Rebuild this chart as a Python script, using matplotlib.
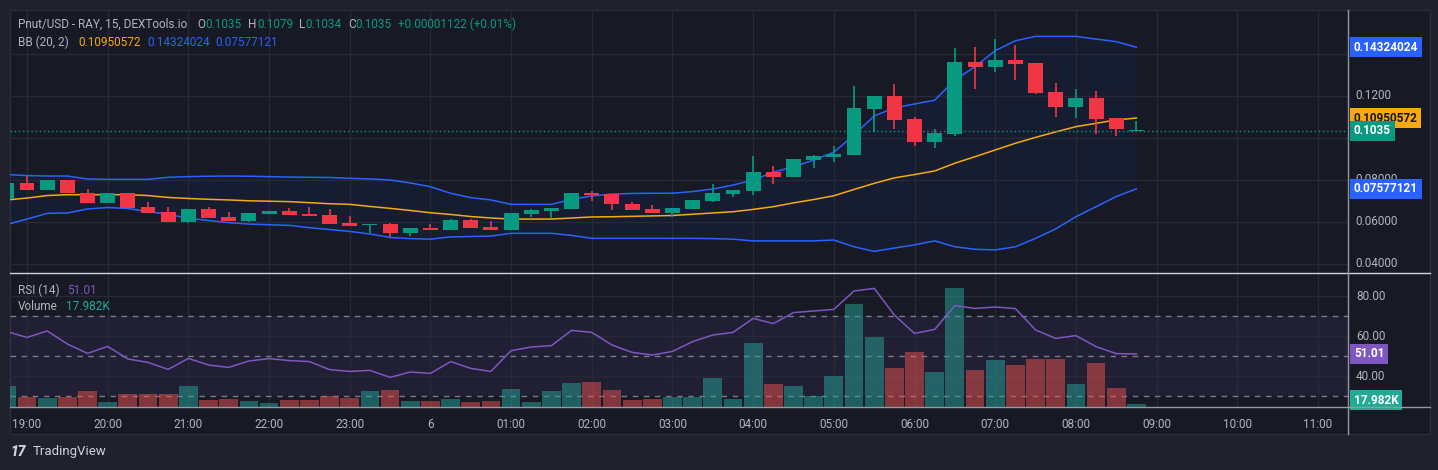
import numpy as np
import matplotlib
matplotlib.use("Agg")
import matplotlib.pyplot as plt
from matplotlib import transforms
from matplotlib.patches import Rectangle
from matplotlib.lines import Line2D

plt.rcParams['font.family'] = ['Roboto', 'DejaVu Sans']

# 15 min candles, index 0 = 19:00 (index -1 = 18:45, last = 08:45)
idx = np.arange(-1, 56)

opens = [0.0710, 0.0784, 0.0752, 0.0800, 0.0740, 0.0692, 0.0738, 0.0671, 0.0648, 0.0601,
         0.0662, 0.0624, 0.0606, 0.0640, 0.0652, 0.0638, 0.0633, 0.0595, 0.0587, 0.0590,
         0.0549, 0.0571, 0.0563, 0.0610, 0.0576, 0.0563, 0.0640, 0.0654, 0.0663, 0.0738,
         0.0733, 0.0687, 0.0662, 0.0644, 0.0663, 0.0701, 0.0735, 0.0749, 0.0838, 0.0816,
         0.0897, 0.0911, 0.0919, 0.1138, 0.1200, 0.1090, 0.0982, 0.1019, 0.1362, 0.1340,
         0.1371, 0.1357, 0.1219, 0.1149, 0.1190, 0.1095, 0.1035]
highs = [0.0790, 0.0819, 0.0802, 0.0802, 0.0757, 0.0740, 0.0740, 0.0695, 0.0671, 0.0664,
         0.0671, 0.0648, 0.0645, 0.0654, 0.0667, 0.0671, 0.0662, 0.0629, 0.0592, 0.0595,
         0.0573, 0.0590, 0.0612, 0.0614, 0.0605, 0.0645, 0.0662, 0.0669, 0.0740, 0.0748,
         0.0735, 0.0697, 0.0681, 0.0669, 0.0707, 0.0781, 0.0754, 0.0914, 0.0867, 0.0902,
         0.0919, 0.0962, 0.1248, 0.1202, 0.1257, 0.1099, 0.1041, 0.1429, 0.1433, 0.1471,
         0.1443, 0.1359, 0.1262, 0.1233, 0.1224, 0.1097, 0.1079]
lows = [0.0705, 0.0750, 0.0750, 0.0738, 0.0690, 0.0690, 0.0666, 0.0642, 0.0599, 0.0597,
        0.0618, 0.0604, 0.0600, 0.0638, 0.0633, 0.0627, 0.0590, 0.0580, 0.0549, 0.0530,
        0.0533, 0.0561, 0.0561, 0.0571, 0.0561, 0.0561, 0.0625, 0.0620, 0.0661, 0.0700,
        0.0657, 0.0655, 0.0642, 0.0625, 0.0661, 0.0697, 0.0720, 0.0730, 0.0782, 0.0814,
        0.0859, 0.0887, 0.0917, 0.1030, 0.1043, 0.0963, 0.0954, 0.1011, 0.1235, 0.1316,
        0.1278, 0.1211, 0.1101, 0.1097, 0.1020, 0.1011, 0.1034]
closes = [0.0784, 0.0752, 0.0800, 0.0740, 0.0692, 0.0738, 0.0668, 0.0644, 0.0601, 0.0662,
          0.0620, 0.0606, 0.0643, 0.0652, 0.0635, 0.0629, 0.0592, 0.0582, 0.0590, 0.0549,
          0.0571, 0.0563, 0.0610, 0.0573, 0.0563, 0.0643, 0.0657, 0.0667, 0.0738, 0.0729,
          0.0687, 0.0657, 0.0644, 0.0667, 0.0705, 0.0738, 0.0752, 0.0838, 0.0816, 0.0900,
          0.0914, 0.0924, 0.1143, 0.1200, 0.1087, 0.0982, 0.1024, 0.1362, 0.1340, 0.1371,
          0.1354, 0.1216, 0.1149, 0.1190, 0.1090, 0.1041, 0.1035]

bb_upper = [0.0826, 0.0821, 0.0819, 0.0819, 0.0805, 0.0803, 0.0803, 0.0803, 0.0813, 0.0816,
            0.0818, 0.0819, 0.0818, 0.0816, 0.0814, 0.0813, 0.0812, 0.0808, 0.0805, 0.0800,
            0.0786, 0.0768, 0.0737, 0.0716, 0.0705, 0.0684, 0.0684, 0.0684, 0.0708, 0.0724,
            0.0733, 0.0736, 0.0737, 0.0737, 0.0745, 0.0757, 0.0776, 0.0800, 0.0837, 0.0863,
            0.0895, 0.0932, 0.1014, 0.1105, 0.1143, 0.1162, 0.1180, 0.1276, 0.1340, 0.1416,
            0.1463, 0.1484, 0.1484, 0.1484, 0.1471, 0.1459, 0.14324024]
bb_basis = [0.0705, 0.0714, 0.0726, 0.0730, 0.0730, 0.0730, 0.0730, 0.0726, 0.0717, 0.0712,
            0.0708, 0.0705, 0.0701, 0.0699, 0.0697, 0.0692, 0.0687, 0.0684, 0.0674, 0.0665,
            0.0655, 0.0644, 0.0636, 0.0626, 0.0619, 0.0614, 0.0614, 0.0614, 0.0619, 0.0624,
            0.0625, 0.0627, 0.0629, 0.0631, 0.0637, 0.0643, 0.0649, 0.0660, 0.0673, 0.0691,
            0.0707, 0.0725, 0.0755, 0.0784, 0.0810, 0.0826, 0.0843, 0.0880, 0.0911, 0.0943,
            0.0975, 0.1003, 0.1029, 0.1054, 0.1070, 0.1086, 0.10950572]
bb_lower = [0.0588, 0.0614, 0.0641, 0.0643, 0.0662, 0.0669, 0.0664, 0.0650, 0.0636, 0.0618,
            0.0607, 0.0597, 0.0590, 0.0587, 0.0584, 0.0573, 0.0564, 0.0555, 0.0543, 0.0526,
            0.0521, 0.0518, 0.0529, 0.0531, 0.0533, 0.0546, 0.0546, 0.0546, 0.0536, 0.0522,
            0.0522, 0.0522, 0.0522, 0.0522, 0.0522, 0.0521, 0.0518, 0.0510, 0.0510, 0.0510,
            0.0510, 0.0514, 0.0482, 0.0460, 0.0476, 0.0491, 0.0510, 0.0482, 0.0470, 0.0467,
            0.0482, 0.0522, 0.0567, 0.0625, 0.0673, 0.0721, 0.07577121]

rsi = [62.2, 59.3, 62.5, 56.0, 51.3, 54.8, 48.5, 46.8, 43.3, 48.8,
       45.5, 44.3, 47.5, 48.7, 47.7, 47.2, 43.2, 42.3, 42.8, 39.3,
       42.0, 41.3, 47.2, 43.8, 42.3, 52.7, 54.5, 55.2, 62.8, 61.8,
       55.5, 51.8, 50.5, 52.3, 57.2, 60.5, 61.8, 68.8, 66.2, 71.7,
       72.5, 73.3, 82.5, 83.8, 70.5, 61.3, 63.3, 75.2, 73.8, 74.5,
       73.7, 63.0, 58.8, 60.2, 54.7, 51.2, 51.01]

# volume in thousands
volume = [128, 62, 56, 62, 98, 32, 80, 80, 80, 128,
          44, 50, 38, 26, 44, 44, 68, 56, 98, 104,
          38, 38, 50, 32, 38, 110, 32, 98, 146, 152,
          104, 44, 50, 62, 62, 176, 48, 384, 138, 126,
          66, 186, 618, 420, 234, 330, 210, 714, 222, 282,
          252, 288, 288, 138, 264, 114, 17.982]

time_labels = ['19:00', '20:00', '21:00', '22:00', '23:00', '6', '01:00', '02:00', '03:00',
               '04:00', '05:00', '06:00', '07:00', '08:00', '09:00', '10:00', '11:00']
time_ticks = np.arange(0, 68, 4)

price_ticks = [0.04, 0.06, 0.08, 0.10, 0.12, 0.14]
price_tick_labels = ['0.04000', '0.06000', '0.08000', '0.1000', '0.1200', '0.1400']
rsi_ticks = [40, 60, 80]
rsi_tick_labels = ['40.00', '60.00', '80.00']

# colours
BG = '#171a25'
OUTER = '#1f222d'
GRID = '#262a36'
TXT = '#b2b5be'
UP = '#089981'
DOWN = '#f23645'
BLUE = '#2962ff'
ORANGE = '#f7a90f'
PURPLE = '#7e57c2'

W, H = 1438, 470


def rect(x0, y0, x1, y1):
    return [x0 / W, 1 - y1 / H, (x1 - x0) / W, (y1 - y0) / H]


fig = plt.figure(figsize=(W / 100, H / 100), dpi=100, facecolor=OUTER)
fig.patches.append(Rectangle((10 / W, 1 - 434 / H), 1420 / W, 424 / H, transform=fig.transFigure,
                             facecolor=BG, edgecolor='#2a2e39', lw=1, zorder=-10))

xlim = (-0.843, 65.49)

# ---------- price pane ----------
ax = fig.add_axes(rect(10, 10, 1348, 273), facecolor='none')
ax.set_xlim(*xlim)
ax.set_ylim(0.035714, 0.16095)
ax.set_xticks(time_ticks)
ax.set_yticks(price_ticks)
ax.grid(True, color=GRID, lw=1)
ax.tick_params(length=0, labelbottom=False, labelleft=False)
for s in ax.spines.values():
    s.set_visible(False)

ax.fill_between(idx, bb_lower, bb_upper, color='#2962ff', alpha=0.05, lw=0)
ax.plot(idx, bb_upper, color=BLUE, lw=1.1)
ax.plot(idx, bb_lower, color=BLUE, lw=1.1)
ax.plot(idx, bb_basis, color=ORANGE, lw=1.1)

o = np.array(opens)
c = np.array(closes)
cols = [UP if cc >= oo else DOWN for oo, cc in zip(o, c)]
bottoms = np.minimum(o, c)
heights = np.maximum(np.abs(c - o), 0.0004)
ax.vlines(idx, lows, highs, colors=cols, lw=1.2, zorder=3)
ax.bar(idx, heights, bottom=bottoms, width=0.74, color=cols, zorder=4)

ax.axhline(closes[-1], color=UP, lw=1, ls=(0, (1, 2)), zorder=2)

tr = transforms.blended_transform_factory(ax.transAxes, ax.transData)
for p, lab in zip(price_ticks, price_tick_labels):
    ax.text(1 + 7 / 1338, p, lab, transform=tr, color=TXT, fontsize=8.5, va='center',
            clip_on=False)

for val, lab, fc, tc in [(0.14324024, '0.14324024', BLUE, 'white'),
                         (0.10950572, '0.10950572', ORANGE, '#131722'),
                         (closes[-1], '0.1035', UP, 'white'),
                         (0.07577121, '0.07577121', BLUE, 'white')]:
    ax.text(1 + 6 / 1338, val, lab, transform=tr, color=tc, fontsize=8.5, va='center',
            fontweight='bold', clip_on=False, zorder=10,
            bbox=dict(boxstyle='square,pad=0.3', fc=fc, ec='none'))

# ---------- RSI / volume pane ----------
axl = fig.add_axes(rect(10, 273, 1348, 407), facecolor='none')
axl.set_xlim(*xlim)
axl.set_ylim(24.5, 91.5)
axl.set_xticks(time_ticks)
axl.set_xticklabels(time_labels)
axl.set_yticks(rsi_ticks)
axl.grid(True, color=GRID, lw=1)
axl.tick_params(length=0, labelleft=False, colors=TXT, labelsize=8.5, pad=8)
for s in axl.spines.values():
    s.set_visible(False)
axl.axhspan(30, 70, color=PURPLE, alpha=0.09, lw=0)
for lvl in [30, 50, 70]:
    axl.axhline(lvl, color='#787b86', lw=1, ls=(0, (4, 4)))

axv = fig.add_axes(rect(10, 273, 1348, 407), facecolor='none')
axv.set_xlim(*xlim)
axv.set_ylim(0, 804)
axv.axis('off')
vcols = ['#26a69a' if cc >= oo else '#ef5350' for oo, cc in zip(o, c)]
axv.bar(idx, volume, width=0.93, color=vcols, alpha=0.5, lw=0)

axr = fig.add_axes(rect(10, 273, 1348, 407), facecolor='none')
axr.set_xlim(*xlim)
axr.set_ylim(24.5, 91.5)
axr.axis('off')
axr.plot(idx, rsi, color=PURPLE, lw=1.1)

trl = transforms.blended_transform_factory(axl.transAxes, axl.transData)
for v, lab in zip(rsi_ticks, rsi_tick_labels):
    axl.text(1 + 8 / 1338, v, lab, transform=trl, color=TXT, fontsize=8.5, va='center',
             clip_on=False)
axl.text(1 + 6 / 1338, rsi[-1], '51.01', transform=trl, color='white', fontsize=8.5,
         va='center', fontweight='bold', clip_on=False, zorder=10,
         bbox=dict(boxstyle='square,pad=0.3', fc=PURPLE, ec='none'))
axl.text(1 + 6 / 1338, 28.0, '17.982K', transform=trl, color='white', fontsize=8.5,
         va='center', fontweight='bold', clip_on=False, zorder=10,
         bbox=dict(boxstyle='square,pad=0.3', fc='#22ab94', ec='none'))

# ---------- frame lines ----------
fig.add_artist(Line2D([10 / W, 1430 / W], [1 - 273 / H] * 2, color='#d1d4dc', lw=1))
fig.add_artist(Line2D([10 / W, 1430 / W], [1 - 407 / H] * 2, color='#9598a1', lw=1))
fig.add_artist(Line2D([1348 / W] * 2, [1 - 10 / H, 1 - 434 / H], color='#9598a1', lw=1))

# ---------- legends ----------
def ftxt(px, py, s, color, **kw):
    fig.text(px / W, 1 - py / H, s, color=color, fontsize=8.5, va='center', **kw)


ftxt(18, 24, 'Pnut/USD - RAY, 15, DEXTools.io', TXT)
ftxt(197, 24, 'O', TXT)
ftxt(205, 24, '0.1035', UP)
ftxt(248, 24, 'H', TXT)
ftxt(257, 24, '0.1079', UP)
ftxt(299, 24, 'L', TXT)
ftxt(305, 24, '0.1034', UP)
ftxt(348, 24, 'C', TXT)
ftxt(355, 24, '0.1035', UP)
ftxt(398, 24, '+0.00001122 (+0.01%)', UP)

ftxt(18, 42, 'BB (20, 2)', TXT)
ftxt(78, 42, '0.10950572', ORANGE)
ftxt(147, 42, '0.14324024', BLUE)
ftxt(215, 42, '0.07577121', BLUE)

ftxt(18, 290, 'RSI (14)', TXT)
ftxt(67, 290, '51.01', PURPLE)
ftxt(18, 307, 'Volume', TXT)
ftxt(66, 307, '17.982K', '#22ab94')

# TradingView mark
fig.text(10 / W, 1 - 452 / H, '17', color='#d1d4dc', fontsize=10, va='center',
         fontweight='heavy', fontstyle='italic')
fig.text(33 / W, 1 - 452 / H, 'TradingView', color='#d1d4dc', fontsize=9.5, va='center')

fig.savefig('out.png', dpi=100, facecolor=OUTER)
